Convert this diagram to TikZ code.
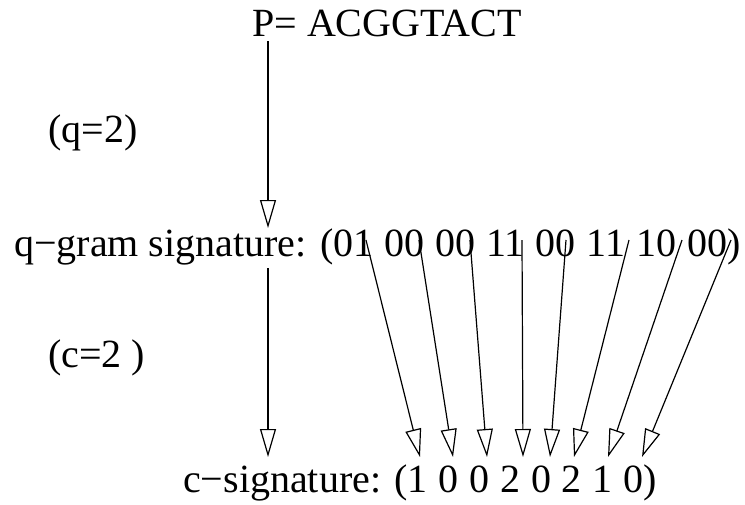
\documentclass[tikz,border=0pt]{standalone}
\usepackage{fontspec}
\setmainfont{Liberation Serif}
\usetikzlibrary{arrows.meta}
\begin{document}
\begin{tikzpicture}[x=1pt,y=-1pt,
  lbl/.style={inner sep=0pt,anchor=base west,font=\fontsize{40}{40}\selectfont},
  arr/.style={line width=1.2pt,-{Triangle[open,length=28pt,width=16pt,line width=1.2pt]}}]
\useasboundingbox (0,0) rectangle (745,504);
\node[lbl] (p) at (252,36) {P= ACGGTACT};
\node[lbl] (ql) at (48,142) {(q=2)};
\node[lbl] (qg) at (14,256) {q−gram signature: (01\kern1pt{} 00\kern1pt{} 00\kern1pt{} 11\kern1pt{} 00\kern1pt{} 11\kern1pt{} 10\kern1pt{} 00)};
\node[lbl] (cl) at (48,367) {(c=2 )};
\node[lbl] (cs) at (183,492) {c−signature: (1\kern0.8pt{} 0\kern0.8pt{} 0\kern0.8pt{} 2\kern0.8pt{} 0\kern0.8pt{} 2\kern0.8pt{} 1\kern0.8pt{} 0)};
\coordinate (a0) at (268,41);
\coordinate (b0) at (268,228);
\coordinate (a1) at (268,268);
\coordinate (b1) at (268,457);
\foreach \i/\sx/\tx in {1/366/420,2/419/453,3/470/487,4/522/523,5/566/550,6/629/574,7/682/608,8/731/642}{
  \coordinate (s\i) at (\sx,240);
  \coordinate (t\i) at (\tx,457);
}
\draw[arr] (a0) -- (b0);
\draw[arr] (a1) -- (b1);
\foreach \i in {1,...,8}{\draw[arr] (s\i) -- (t\i);}
\end{tikzpicture}
\end{document}
